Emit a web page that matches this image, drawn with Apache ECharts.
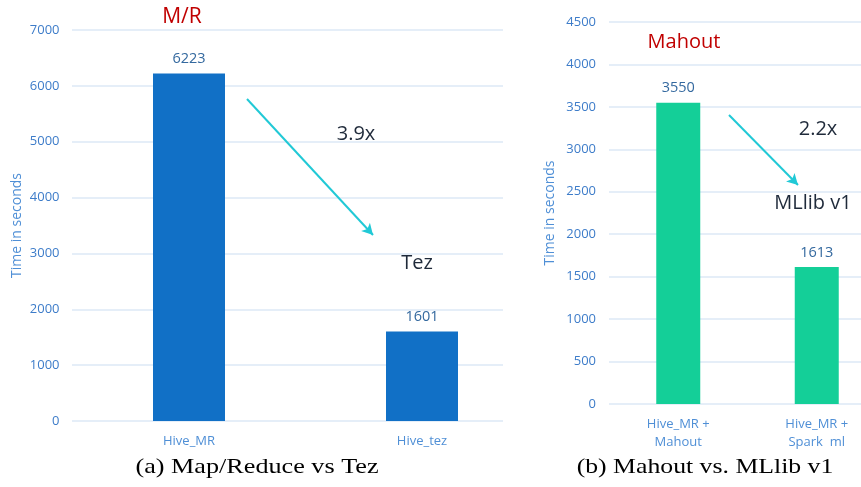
<!DOCTYPE html>
<html>
<head>
<meta charset="utf-8">
<script src="https://cdn.jsdelivr.net/npm/echarts@6/dist/echarts.min.js"></script>
<style>
html,body{margin:0;padding:0;background:#fff;}
#chart{width:861px;height:487px;}
</style>
</head>
<body>
<div id="chart"></div>
<script>
// ---- data ----
var categoriesA = ['Hive_MR', 'Hive_tez'];
var valuesA = [6223, 1601];
var categoriesB = ['Hive_MR +\nMahout', 'Hive_MR +\nSpark  ml'];
var valuesB = [3550, 1613];
var axisA = {min: 0, max: 7000, interval: 1000};
var axisB = {min: 0, max: 4500, interval: 500};
var yName = 'Time in seconds';
var titleA = 'M/R', titleB = 'Mahout';
var speedupA = '3.9x', targetA = 'Tez';
var speedupB = '2.2x', targetB = 'MLlib v1';
var captionA = '(a) Map/Reduce vs Tez';
var captionB = '(b) Mahout vs. MLlib v1';

// ---- styles ----
var FONT = '"Open Sans", "Noto Sans", sans-serif';
var SERIF = '"Liberation Serif", "DejaVu Serif", serif';
var tickColor = '#3d7cc9';
var catColor = '#4f8fd6';
var gridColor = '#dce8f6';
var valColor = '#34699f';
var arrowColor = '#21c9d6';

var chart = echarts.init(document.getElementById('chart'), null, {renderer: 'canvas'});

function valueAxis(gridIndex, ax, showLabels, nameGap) {
  return {
    type: 'value', gridIndex: gridIndex, min: ax.min, max: ax.max, interval: ax.interval,
    name: showLabels ? yName : '', nameLocation: 'middle', nameGap: nameGap, nameMoveOverlap: false,
    nameTextStyle: {color: catColor, fontSize: 14, fontFamily: FONT},
    axisLine: {show: false}, axisTick: {show: false},
    axisLabel: {show: showLabels, color: tickColor, fontSize: 13, fontFamily: FONT, margin: 13,
      formatter: function (v) { return String(v); }},
    splitLine: {show: !showLabels, lineStyle: {color: gridColor, width: 1.5}}
  };
}

function catAxis(gridIndex, cats, show) {
  return {
    type: 'category', gridIndex: gridIndex, data: cats, show: show,
    axisLine: {show: false}, axisTick: {show: false},
    axisLabel: {color: catColor, fontSize: 13, fontFamily: FONT, margin: 11, lineHeight: 18}
  };
}

function grid(o) {
  o.containLabel = false;
  o.outerBoundsMode = 'none';
  return o;
}

var option = {
  animation: false,
  backgroundColor: '#ffffff',
  grid: [
    grid({left: 72.5, width: 466, top: 30, height: 391}),   // A bars
    grid({left: 72, width: 431, top: 30, height: 391}),     // A gridlines
    grid({left: 609, width: 277, top: 22, height: 382}),    // B bars
    grid({left: 609, width: 252, top: 22, height: 382})     // B gridlines
  ],
  xAxis: [
    catAxis(0, categoriesA, true),
    catAxis(1, categoriesA, false),
    catAxis(2, categoriesB, true),
    catAxis(3, categoriesB, false)
  ],
  yAxis: [
    valueAxis(0, axisA, true, 48),
    valueAxis(1, axisA, false, 0),
    valueAxis(2, axisB, true, 52),
    valueAxis(3, axisB, false, 0)
  ],
  series: [
    {
      type: 'bar', xAxisIndex: 0, yAxisIndex: 0, data: valuesA, barWidth: 72, z: 3,
      itemStyle: {color: '#1170c6'},
      label: {show: true, position: 'top', distance: 7, color: valColor, fontSize: 14.5, fontFamily: FONT},
      markLine: {
        silent: true, symbol: ['none', 'arrow'], symbolSize: [9, 11],
        lineStyle: {color: arrowColor, width: 2, type: 'solid'},
        label: {show: false},
        data: [[{x: 247, y: 99}, {x: 373, y: 235}]]
      }
    },
    {
      type: 'bar', xAxisIndex: 2, yAxisIndex: 2, data: valuesB, barWidth: 44, z: 3,
      itemStyle: {color: '#14cf98'},
      label: {show: true, position: 'top', distance: 7, color: valColor, fontSize: 14.5, fontFamily: FONT},
      markLine: {
        silent: true, symbol: ['none', 'arrow'], symbolSize: [9, 11],
        lineStyle: {color: arrowColor, width: 2, type: 'solid'},
        label: {show: false},
        data: [[{x: 729, y: 115}, {x: 798, y: 185}]]
      }
    }
  ],
  graphic: [
    {type: 'text', x: 182, y: 17, style: {text: titleA, fill: '#c00000', fontSize: 21, fontFamily: FONT, align: 'center', verticalAlign: 'middle'}},
    {type: 'text', x: 356, y: 134, style: {text: speedupA, fill: '#1f2a3a', fontSize: 20, fontFamily: FONT, align: 'center', verticalAlign: 'middle'}},
    {type: 'text', x: 417, y: 263, style: {text: targetA, fill: '#1f2a3a', fontSize: 20, fontFamily: FONT, align: 'center', verticalAlign: 'middle'}},
    {type: 'text', x: 684, y: 42, style: {text: titleB, fill: '#c00000', fontSize: 20, fontFamily: FONT, align: 'center', verticalAlign: 'middle'}},
    {type: 'text', x: 818, y: 129, style: {text: speedupB, fill: '#1f2a3a', fontSize: 20, fontFamily: FONT, align: 'center', verticalAlign: 'middle'}},
    {type: 'text', x: 813, y: 203, style: {text: targetB, fill: '#1f2a3a', fontSize: 20, fontFamily: FONT, align: 'center', verticalAlign: 'middle'}},
    {type: 'text', x: 257, y: 467, scaleX: 1.19, style: {text: captionA, fill: '#000', fontSize: 22, fontFamily: SERIF, align: 'center', verticalAlign: 'middle'}},
    {type: 'text', x: 705, y: 467, scaleX: 1.17, style: {text: captionB, fill: '#000', fontSize: 22, fontFamily: SERIF, align: 'center', verticalAlign: 'middle'}}
  ]
};
chart.setOption(option);
</script>
</body>
</html>
